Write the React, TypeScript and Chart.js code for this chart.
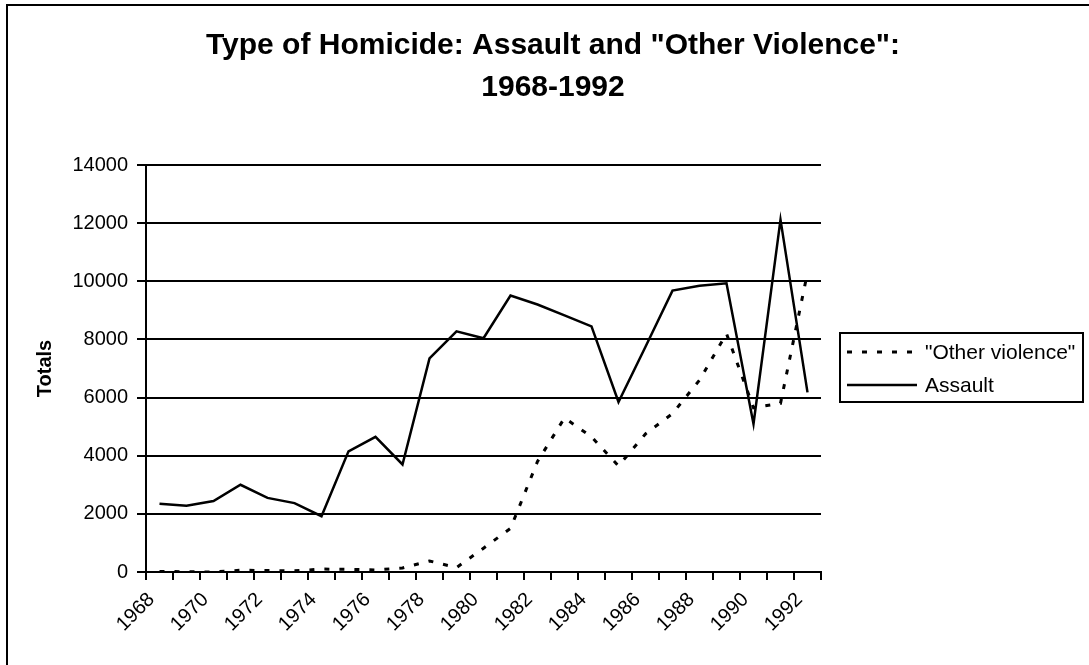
import React, { useEffect, useRef } from "react";
import { Chart, registerables } from "chart.js";

Chart.register(...registerables);

const YEARS = [
  "1968", "1969", "1970", "1971", "1972", "1973", "1974", "1975", "1976",
  "1977", "1978", "1979", "1980", "1981", "1982", "1983", "1984", "1985",
  "1986", "1987", "1988", "1989", "1990", "1991", "1992",
];

const OTHER_VIOLENCE = [
  20, 10, 0, 60, 50, 40, 100, 90, 70, 140, 380, 150, 820, 1500, 3800, 5300,
  4650, 3650, 4750, 5450, 6600, 8200, 5650, 5800, 10300,
];

const ASSAULT = [
  2350, 2280, 2440, 3000, 2550, 2370, 1920, 4150, 4650, 3700, 7350, 8280,
  8040, 9510, 9200, 8830, 8450, 5850, 7750, 9680, 9850, 9930, 5090, 12120,
  6180,
];

const TITLE_LINES = ['Type of Homicide: Assault and "Other Violence":', "1968-1992"];
const Y_TITLE = "Totals";
const SERIES_LABELS = ['"Other violence"', "Assault"];

const FONT = "'Liberation Sans', Arial, sans-serif";

const decorPlugin = {
  id: "decor",
  beforeDraw(chart: any) {
    const ctx = chart.ctx;
    ctx.save();
    ctx.fillStyle = "#ffffff";
    ctx.fillRect(0, 0, chart.width, chart.height);
    ctx.restore();
  },
  afterDraw(chart: any) {
    const ctx = chart.ctx;
    const area = chart.chartArea;
    ctx.save();
    // outer frame (top + left)
    ctx.strokeStyle = "#000";
    ctx.lineWidth = 2;
    ctx.beginPath();
    ctx.moveTo(7, chart.height);
    ctx.lineTo(7, 5);
    ctx.lineTo(chart.width, 5);
    ctx.stroke();

    // title
    ctx.fillStyle = "#000";
    ctx.font = `bold 30px ${FONT}`;
    ctx.textAlign = "center";
    ctx.textBaseline = "middle";
    ctx.fillText(TITLE_LINES[0], 553, 46);
    ctx.fillText(TITLE_LINES[1], 553, 88);

    // y axis title
    ctx.save();
    ctx.translate(45, (area.top + area.bottom) / 2);
    ctx.rotate(-Math.PI / 2);
    ctx.font = `bold 20px ${FONT}`;
    ctx.textAlign = "center";
    ctx.textBaseline = "middle";
    ctx.fillText(Y_TITLE, 0, 0);
    ctx.restore();

    // legend
    const bx = 840, by = 333, bw = 243, bh = 69;
    ctx.lineWidth = 2;
    ctx.strokeStyle = "#000";
    ctx.strokeRect(bx, by, bw, bh);
    const rows = [352, 385];
    chart.data.datasets.forEach((ds: any, i: number) => {
      const y = rows[i];
      ctx.save();
      ctx.strokeStyle = ds.borderColor;
      ctx.lineWidth = ds.borderWidth;
      ctx.setLineDash(ds.borderDash || []);
      ctx.beginPath();
      ctx.moveTo(847, y);
      ctx.lineTo(917, y);
      ctx.stroke();
      ctx.restore();
      ctx.fillStyle = "#000";
      ctx.font = `21px ${FONT}`;
      ctx.textAlign = "left";
      ctx.textBaseline = "middle";
      ctx.fillText(ds.label, 925, y + 1);
    });
    ctx.restore();
  },
};

export default function App() {
  const canvasRef = useRef<HTMLCanvasElement | null>(null);

  useEffect(() => {
    document.body.style.margin = "0";
    const canvas = canvasRef.current;
    if (!canvas) return;
    const chart = new Chart(canvas, {
      type: "line",
      data: {
        labels: YEARS,
        datasets: [
          {
            label: SERIES_LABELS[0],
            data: OTHER_VIOLENCE,
            borderColor: "#000",
            borderWidth: 3,
            borderDash: [5, 10],
            pointRadius: 0,
            tension: 0,
            fill: false,
          },
          {
            label: SERIES_LABELS[1],
            data: ASSAULT,
            borderColor: "#000",
            borderWidth: 2.5,
            pointRadius: 0,
            tension: 0,
            fill: false,
          },
        ],
      },
      options: {
        animation: false,
        responsive: false,
        devicePixelRatio: 1,
        layout: { padding: { left: 0, right: 268, top: 165, bottom: 0 } },
        plugins: {
          legend: { display: false },
          title: { display: false },
          tooltip: { enabled: false },
        },
        scales: {
          x: {
            type: "category",
            offset: true,
            grid: {
              display: true,
              offset: true,
              drawOnChartArea: false,
              drawTicks: true,
              tickLength: 8,
              color: "#000",
              lineWidth: 2,
            },
            border: { display: true, color: "#000", width: 2 },
            ticks: {
              autoSkip: false,
              maxRotation: 45,
              minRotation: 45,
              labelOffset: -8,
              padding: 8,
              color: "#000",
              font: { family: FONT, size: 20 },
              callback: (_v: any, i: number) => (i % 2 === 0 ? YEARS[i] : ""),
            },
            afterFit: (scale: any) => {
              scale.height = 93;
            },
          },
          y: {
            min: 0,
            max: 14000,
            grid: {
              color: "#000",
              lineWidth: 2,
              drawTicks: true,
              tickLength: 9,
            },
            border: { display: true, color: "#000", width: 2 },
            ticks: {
              stepSize: 2000,
              padding: 9,
              color: "#000",
              font: { family: FONT, size: 20 },
              callback: (v: any) => String(v),
            },
            afterFit: (scale: any) => {
              scale.width = 146;
            },
          },
        },
      },
      plugins: [decorPlugin],
    });
    return () => chart.destroy();
  }, []);

  return (
    <div style={{ position: "absolute", left: 0, top: 0, width: 1089, height: 665, background: "#fff" }}>
      <canvas ref={canvasRef} width={1089} height={665} style={{ display: "block" }} />
    </div>
  );
}
